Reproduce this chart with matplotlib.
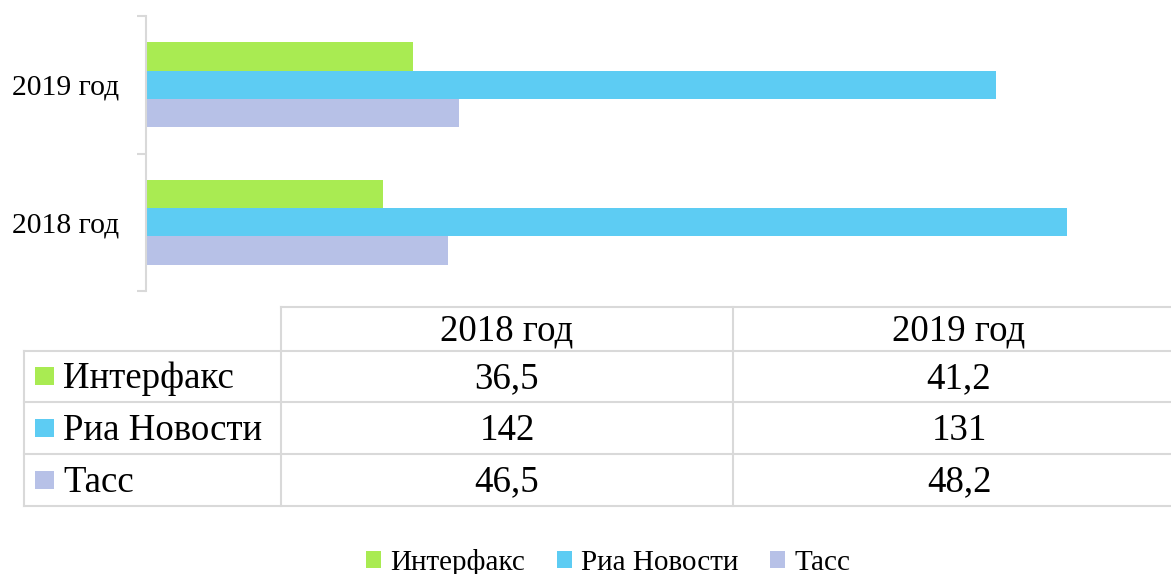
import numpy as np
import matplotlib
matplotlib.use('Agg')
import matplotlib.pyplot as plt
from matplotlib.patches import Rectangle

plt.rcParams['font.family'] = ['Liberation Serif', 'DejaVu Serif']

# ---- data ----
categories = ['2018 год', '2019 год']
series_names = ['Интерфакс', 'Риа Новости', 'Тасс']
interfax = [36.5, 41.2]
ria = [142, 131]
tass = [46.5, 48.2]
colors = ['#A9EB52', '#5DCCF3', '#B7C1E7']

GRID = '#D9D9D9'
W, H = 1171, 574
fig = plt.figure(figsize=(W / 100, H / 100), dpi=100)


def fx(px):
    return px / W


def fy(py):
    return 1 - py / H


# ---- bar chart ----
ax = fig.add_axes([fx(146), fy(291), (1184 - 146) / W, (291 - 16) / H])
ax.set_xlim(0, 160)
ax.set_ylim(-0.5, 1.5)
y = np.arange(len(categories))
bh = 0.207
series = [interfax, ria, tass]
offsets = [bh, 0, -bh]
bars = []
for vals, off, c in zip(series, offsets, colors):
    bars.append(ax.barh(y + off, vals, height=bh, color=c, linewidth=0))

for s in ['top', 'right', 'bottom']:
    ax.spines[s].set_visible(False)
ax.spines['left'].set_color(GRID)
ax.spines['left'].set_linewidth(1.5)
ax.set_xticks([])
ax.set_yticks([-0.5, 0.5, 1.5])
ax.set_yticklabels([])
ax.tick_params(axis='y', which='major', length=6.5, width=1.5, color=GRID)
ax.set_yticks(y, minor=True)
ax.set_yticklabels(categories, minor=True, fontsize=21.3)
ax.tick_params(axis='y', which='minor', length=0, pad=19)

# ---- data table ----
tax = fig.add_axes([0, 0, 1, 1], zorder=-1)
tax.set_xlim(0, W)
tax.set_ylim(H, 0)
tax.axis('off')

x_left, x_div1, x_div2, x_right = 24, 281, 733, 1185
y_head, rows_y = 307, [350.5, 402, 454, 506]
lkw = dict(color=GRID, lw=1.5, clip_on=False, solid_capstyle='projecting')
tax.plot([x_div1, x_right], [y_head, y_head], **lkw)
for yy in rows_y:
    tax.plot([x_left, x_right], [yy, yy], **lkw)
tax.plot([x_left, x_left], [rows_y[0], rows_y[-1]], **lkw)
for xx in [x_div1, x_div2, x_right]:
    tax.plot([xx, xx], [y_head, rows_y[-1]], **lkw)

col_centers = [(x_div1 + x_div2) / 2, (x_div2 + x_right) / 2]
TFS = 26.6
for cx, cat in zip(col_centers, categories):
    tax.text(cx, (y_head + rows_y[0]) / 2 + 12, cat, ha='center', va='baseline', fontsize=TFS)


def fmt(v):
    return f"{v:g}".replace('.', ',')


for i, (name, vals, c) in enumerate(zip(series_names, series, colors)):
    rc = (rows_y[i] + rows_y[i + 1]) / 2
    tax.add_patch(Rectangle((35, rc - 9.5), 19, 18, color=c, lw=0))
    tax.text(63, rc + 11.5, name, ha='left', va='baseline', fontsize=TFS)
    for cx, v in zip(col_centers, vals):
        tax.text(cx, rc + 11.5, fmt(v), ha='center', va='baseline', fontsize=TFS)

# ---- legend ----
fig.legend(handles=bars, labels=series_names, loc='center',
           bbox_to_anchor=(fx(608), fy(562)), ncol=3, frameon=False,
           fontsize=21, handlelength=0.52, handleheight=0.52,
           handletextpad=0.3, columnspacing=1.1, borderpad=0, borderaxespad=0)

fig.savefig('out.png', dpi=100)
